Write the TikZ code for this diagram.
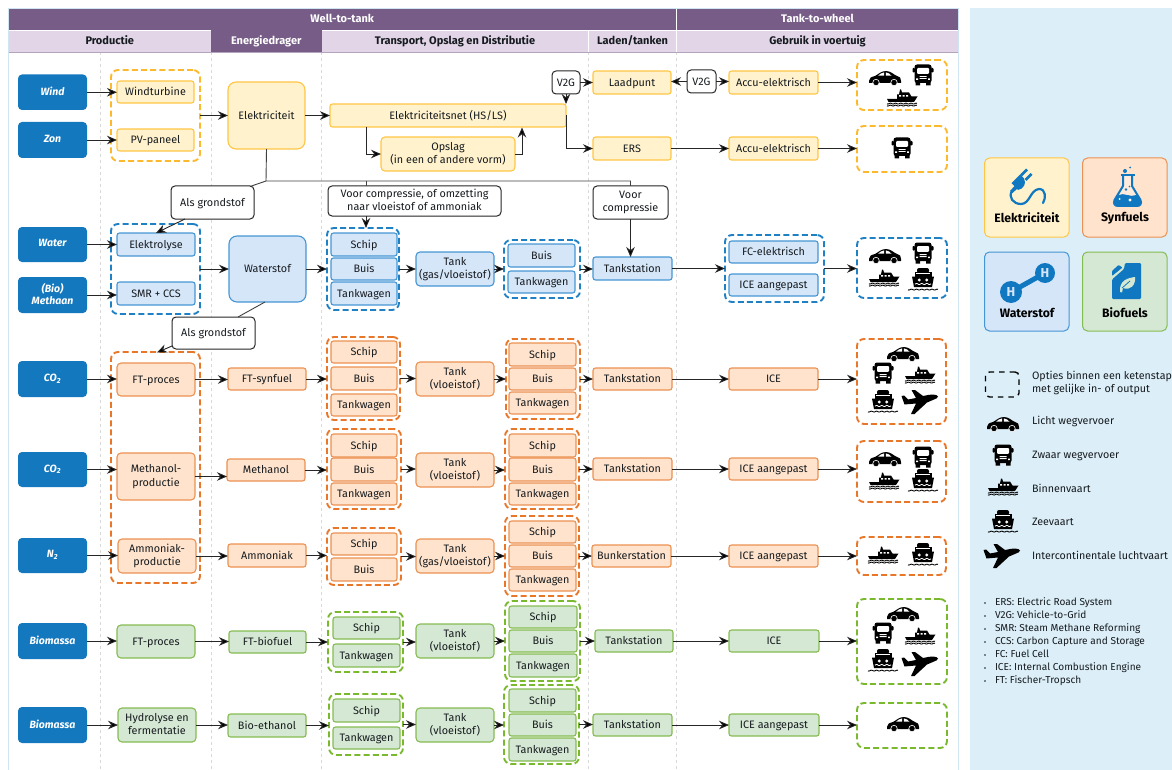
\documentclass[tikz,border=0pt]{standalone}
\usepackage{fontspec}
\setmainfont{Fira Sans}
\usetikzlibrary{arrows.meta,calc}
\definecolor{purp}{HTML}{765C87}
\definecolor{lav}{HTML}{E1D5E7}
\definecolor{panel}{HTML}{DCEEF8}
\definecolor{frameb}{HTML}{CFE5F2}
\definecolor{srcb}{HTML}{1378BE}
\definecolor{fillY}{HTML}{FFF2CC}\definecolor{lineY}{HTML}{FFC645}\definecolor{dashY}{HTML}{FDB92E}
\definecolor{fillB}{HTML}{D6E6F9}\definecolor{lineB}{HTML}{4596D4}\definecolor{dashB}{HTML}{1F80C4}
\definecolor{fillO}{HTML}{FFE3CC}\definecolor{lineO}{HTML}{EC9152}\definecolor{dashO}{HTML}{E8772A}
\definecolor{fillG}{HTML}{D5E8D4}\definecolor{lineG}{HTML}{85BC50}\definecolor{dashG}{HTML}{7AB82E}
\definecolor{ink}{HTML}{161B1F}
\definecolor{iconb}{HTML}{0F78C0}
\newcommand{\bx}[7]{%
  \pgfmathsetmacro\cxv{(#3+#5)/2}\pgfmathsetmacro\cyv{(#4+#6)/2}%
  \pgfmathsetmacro\wv{#5-#3}\pgfmathsetmacro\hv{#6-#4}%
  \node[#1,minimum width=\wv pt,minimum height=\hv pt] (#2) at (\cxv,\cyv) {\leavevmode\vphantom{Ag}#7\vphantom{Ag}};}
\newcommand{\harr}[2]{\draw[arr] (#1.east) -- (#1.east -| #2.west);}
\tikzset{
  base/.style={inner sep=0pt,outer sep=0pt,align=center,text=ink,font=\fontsize{10.8}{13.5}\selectfont,rounded corners=2.5pt,line width=1.1pt,execute at begin node={\leavevmode\rule{0pt}{9.6pt}}},
  boxY/.style={base,fill=fillY,draw=lineY},
  boxB/.style={base,fill=fillB,draw=lineB},
  boxO/.style={base,fill=fillO,draw=lineO},
  boxG/.style={base,fill=fillG,draw=lineG},
  bigbox/.style={rounded corners=8pt},
  midbox/.style={rounded corners=4pt},
  grpbase/.style={inner sep=0pt,outer sep=0pt,rounded corners=7pt,line width=1.9pt,dash pattern=on 6pt off 3.2pt},
  grpY/.style={grpbase,draw=dashY},
  grpB/.style={grpbase,draw=dashB},
  grpO/.style={grpbase,draw=dashO},
  grpG/.style={grpbase,draw=dashG},
  src/.style={inner sep=0pt,outer sep=0pt,align=center,fill=srcb,rounded corners=4pt,text=white,font=\fontsize{10.5}{12.5}\selectfont\bfseries\itshape},
  whitebox/.style={base,fill=white,draw=black!85,rounded corners=4pt,line width=1pt},
  arr/.style={line width=0.9pt,draw=black!85,-{Stealth[length=10pt,width=8.5pt,fill=black]}},
  plainln/.style={line width=0.9pt,draw=black!75},
  hpurp/.style={inner sep=0pt,outer sep=0pt,fill=purp,text=white,font=\fontsize{11}{12}\selectfont\bfseries},
  hlav/.style={inner sep=0pt,outer sep=0pt,fill=lav,text=ink,font=\fontsize{11}{12}\selectfont\bfseries},
  coldiv/.style={draw=black!15,line width=0.8pt,dashed},
  legtxt/.style={inner sep=0pt,outer sep=0pt,anchor=west,text=ink,text height=7.6pt,text depth=2.4pt,font=\fontsize{10.7}{12}\selectfont},
  abbtxt/.style={inner sep=0pt,outer sep=0pt,anchor=west,text=ink,text height=7pt,text depth=2.2pt,font=\fontsize{10.1}{11}\selectfont},
  legbig/.style={inner sep=0pt,outer sep=0pt,text=black,font=\fontsize{12.2}{13}\selectfont\bfseries},
  legcard/.style={inner sep=0pt,outer sep=0pt,rounded corners=5pt,line width=1pt},
  carIcon/.pic={
    \fill[black] (-16,3) .. controls (-16,0) and (-14,-1) .. (-10,-2) .. controls (-7,-3.5) and (-4,-7) .. (1,-7) .. controls (6,-7) and (9,-3) .. (12,-2) .. controls (15,-1.5) and (16,0) .. (16,3) -- (16,5) -- (-16,5) -- cycle;
    \fill[white] (-7,-2.3) .. controls (-5,-4) and (-3,-5.5) .. (-0.8,-5.6) -- (-0.8,-2.3) -- cycle;
    \fill[white] (0.8,-5.6) .. controls (3,-5.6) and (5,-4) .. (6.5,-2.3) -- (0.8,-2.3) -- cycle;
    \fill[black,draw=white,line width=0.6pt] (-9,4.5) circle (3.2) (9,4.5) circle (3.2);
  },
  truckIcon/.pic={
    \fill[black,rounded corners=2.5pt] (-8.5,-10.5) rectangle (8.5,8);
    \fill[black] (-7.5,7) rectangle (-3,10.5) (3,7) rectangle (7.5,10.5);
    \fill[black,rounded corners=0.8pt] (-10.5,-7) rectangle (-8,-2.5) (8,-7) rectangle (10.5,-2.5);
    \fill[white,rounded corners=1pt] (-6,-7) rectangle (6,-1.2);
    \fill[white] (-3.5,1.2) rectangle (3.5,2) (-3.5,3.2) rectangle (3.5,4);
    \fill[white] (-6.8,3.5) rectangle (-5,5) (5,3.5) rectangle (6.8,5);
  },
  boatIcon/.pic={
    \fill[black] (-15,1) -- (-5,1) -- (-5,-3.5) -- (-3,-3.5) -- (-2,-8.5) -- (-1,-8.5) -- (0,-5.5) -- (7,-5.5) -- (9.5,-1.5) -- (15.5,-1.5) -- (12,4) -- (-13.5,4) -- cycle;
    \fill[white] (-2.8,-2.8) rectangle (-0.8,-1.3) (0.6,-2.8) rectangle (2.6,-1.3) (4,-2.8) rectangle (6,-1.3);
    \draw[black,line width=0.9pt] plot[domain=-15:15,samples=40,smooth] (\x,{5.6+0.45*sin(\x*70)});
    \draw[black,line width=0.9pt] plot[domain=-15:15,samples=40,smooth] (\x,{7.6+0.45*sin(\x*70)});
  },
  shipIcon/.pic={
    \fill[black,rounded corners=2pt] (-6,-13) rectangle (6,-8);
    \fill[black] (-8.5,-9) rectangle (8.5,-4);
    \fill[black] (-11,-4.5) -- (11,-4.5) -- (9,6) -- (-9,6) -- cycle;
    \fill[white] (-3.8,-1) circle (1.6) (3.8,-1) circle (1.6);
    \fill[white] (-7,-7.6) rectangle (7,-6.8);
    \draw[white,line width=0.8pt] plot[domain=-8:8,samples=30,smooth] (\x,{3+0.5*sin(\x*70)});
    \draw[black,line width=0.9pt] plot[domain=-15:15,samples=40,smooth] (\x,{8.6+0.45*sin(\x*70)});
  },
  planeIcon/.pic={
    \fill[black,line join=round] (18,-5.5) .. controls (17,-8) and (11,-7.5) .. (8,-7) -- (3,-6) -- (-5,-12) -- (-8.5,-12) -- (-4,-4) -- (-12,-2.5) -- (-16,-6.5) -- (-18.5,-6) -- (-15.5,2.5) -- (-4,1.5) -- (-9,12) -- (-5.5,12) -- (7,0.5) -- (14,-2.5) .. controls (16,-3.2) and (18,-4) .. (18,-5.5) -- cycle;
  }
}
\begin{document}
\begin{tikzpicture}[x=1pt,y=-1pt]
\useasboundingbox (0,0) rectangle (1172,770);
% frame and panel
\bx{draw=frameb,line width=0.8pt,inner sep=0pt,outer sep=0pt}{frame}{8}{8.5}{958.5}{771}{}
\bx{fill=panel,inner sep=0pt,outer sep=0pt}{legpanel}{970}{8}{1172}{770}{}
% column dividers
\foreach \xx in {100,211,321,588,676}{\draw[coldiv] (\xx,52) -- (\xx,770);}
% headers
\bx{hpurp}{hWtT}{8.5}{9.5}{676}{30}{Well-to-tank}
\bx{hpurp}{hTtW}{677}{9.5}{958}{30}{Tank-to-wheel}
\bx{hlav}{hProd}{8.5}{31}{211}{52}{Productie}
\bx{hpurp}{hEner}{211}{30}{321.5}{52}{Energiedrager}
\bx{hlav}{hTrans}{322}{31}{588}{52}{Transport, Opslag en Distributie}
\bx{hlav}{hLaden}{589}{31}{676}{52}{Laden/tanken}
\bx{hlav}{hGebr}{677}{31}{958}{52}{Gebruik in voertuig}
\draw[purp!55,line width=0.8pt] (hProd.south west) -- (hGebr.south east);
% sources
\bx{src}{sWind}{18}{74.5}{87}{110}{Wind}
\bx{src}{sZon}{18}{122}{87}{158}{Zon}
\bx{src}{sWater}{18}{227}{87}{262}{Water}
\bx{src}{sMeth}{18}{277}{87}{313}{(Bio)\\Methaan}
\bx{src}{sCOa}{18}{361}{87}{397}{CO\textsubscript{2}}
\bx{src}{sCOb}{18}{452}{87}{487}{CO\textsubscript{2}}
\bx{src}{sN}{18}{538}{87}{573}{N\textsubscript{2}}
\bx{src}{sBioa}{18}{623}{87}{659}{Biomassa}
\bx{src}{sBiob}{18}{707}{87}{743}{Biomassa}
% yellow
\bx{grpY}{gWZ}{111}{70}{200}{161}{}
\bx{boxY}{wt}{117}{81}{194}{103}{Windturbine}
\bx{boxY}{pv}{117}{129}{194}{151}{PV-paneel}
\bx{boxY,bigbox}{elek}{228}{82}{305}{149}{Elektriciteit}
\bx{boxY}{net}{330}{104}{566}{127}{Elektriciteitsnet (HS/LS)}
\bx{boxY,midbox}{opslag}{381}{137}{515}{171}{Opslag\\(in een of andere vorm)}
\bx{whitebox}{vga}{552}{71}{580}{94}{V2G}
\bx{whitebox}{vgb}{687}{70}{716}{93}{V2G}
\bx{boxY}{laad}{593}{71}{671}{94}{Laadpunt}
\bx{boxY}{ers}{593}{137}{671}{160}{ERS}
\bx{boxY}{accua}{729}{71}{818}{94}{Accu-elektrisch}
\bx{boxY}{accub}{729}{137}{818}{160}{Accu-elektrisch}
\bx{grpY}{iYa}{857}{60}{947}{110}{}
\bx{grpY}{iYb}{857}{126}{947}{172}{}
% white labels
\bx{whitebox}{agA}{171}{186}{254}{219}{Als grondstof}
\bx{whitebox}{voorA}{328}{186}{501}{216}{Voor compressie, of omzetting\\naar vloeistof of ammoniak}
\bx{whitebox}{voorB}{593}{186}{668}{219}{Voor\\compressie}
\bx{whitebox}{agB}{172}{317}{255}{349}{Als grondstof}
% blue
\bx{grpB}{gEl}{111}{224}{200}{314}{}
\bx{boxB}{elyse}{117}{233}{195}{256}{Elektrolyse}
\bx{boxB}{smr}{117}{282}{195}{305}{SMR + CCS}
\bx{boxB,bigbox}{wst}{229}{236}{306}{302}{Waterstof}
\bx{grpB}{gBa}{327}{228}{399}{310}{}
\bx{boxB}{bSchip}{331}{233}{397}{256}{Schip}
\bx{boxB}{bBuis}{331}{258}{397}{280}{Buis}
\bx{boxB}{bTw}{331}{282}{397}{305}{Tankwagen}
\bx{boxB,midbox}{bTank}{416}{252}{494}{286}{Tank\\(gas/vloeistof)}
\bx{grpB}{gBb}{504}{240}{580}{298}{}
\bx{boxB}{bBuis2}{508}{244}{575}{267}{Buis}
\bx{boxB}{bTw2}{508}{271}{575}{293}{Tankwagen}
\bx{boxB}{bTs}{593}{257}{672}{280}{Tankstation}
\bx{grpB}{gFC}{725}{235}{824}{302}{}
\bx{boxB}{fc}{729}{241}{818}{263}{FC-elektrisch}
\bx{boxB}{bIce}{729}{274}{818}{296}{ICE aangepast}
\bx{grpB}{iB}{857}{238}{947}{298}{}
% orange
\bx{grpO}{gOp}{111}{352}{200}{583}{}
\bx{boxO,midbox}{ftO}{117}{363}{195}{396}{FT-proces}
\bx{boxO,midbox}{methP}{117}{453}{195}{500}{Methanol-\\productie}
\bx{boxO,midbox}{ammP}{118}{539}{196}{573}{Ammoniak-\\productie}
\bx{boxO}{ftS}{228}{368}{306}{390}{FT-synfuel}
\bx{boxO}{meth}{227}{459}{305}{481}{Methanol}
\bx{boxO}{amm}{228}{544}{306}{567}{Ammoniak}
% orange row 1
\bx{grpO}{gOa}{327}{337}{400}{420}{}
\bx{boxO}{oaS}{331}{341}{397}{363}{Schip}
\bx{boxO}{oaB}{331}{367}{397}{390}{Buis}
\bx{boxO}{oaT}{331}{394}{397}{416}{Tankwagen}
\bx{boxO,midbox}{oaTank}{416}{362}{494}{396}{Tank\\(vloeistof)}
\bx{grpO}{gOa2}{506}{339}{580}{419}{}
\bx{boxO}{oa2S}{509}{343}{576}{366}{Schip}
\bx{boxO}{oa2B}{509}{368}{576}{390}{Buis}
\bx{boxO}{oa2T}{509}{392}{576}{414}{Tankwagen}
\bx{boxO}{oaTs}{593}{368}{672}{390}{Tankstation}
\bx{boxO}{oaIce}{729}{368}{818}{390}{ICE}
\bx{grpO}{iOa}{857}{339}{946}{424}{}
% orange row 2
\bx{grpO}{gOb}{327}{429}{401}{509}{}
\bx{boxO}{obS}{331}{434}{397}{457}{Schip}
\bx{boxO}{obB}{331}{458}{397}{481}{Buis}
\bx{boxO}{obT}{331}{483}{397}{505}{Tankwagen}
\bx{boxO,midbox}{obTank}{416}{453}{494}{487}{Tank\\(vloeistof)}
\bx{grpO}{gOb2}{505}{429}{579}{509}{}
\bx{boxO}{ob2S}{509}{434}{576}{457}{Schip}
\bx{boxO}{ob2B}{509}{458}{576}{481}{Buis}
\bx{boxO}{ob2T}{509}{483}{576}{505}{Tankwagen}
\bx{boxO}{obTs}{593}{458}{672}{480}{Tankstation}
\bx{boxO}{obIce}{729}{458}{818}{480}{ICE aangepast}
\bx{grpO}{iOb}{857}{441}{946}{502}{}
% orange row 3
\bx{grpO}{gOc}{327}{528}{401}{585}{}
\bx{boxO}{ocS}{331}{533}{397}{555}{Schip}
\bx{boxO}{ocB}{331}{558}{397}{581}{Buis}
\bx{boxO,midbox}{ocTank}{416}{539}{494}{573}{Tank\\(gas/vloeistof)}
\bx{grpO}{gOc2}{505}{516}{579}{596}{}
\bx{boxO}{oc2S}{509}{521}{576}{543}{Schip}
\bx{boxO}{oc2B}{509}{545}{576}{567}{Buis}
\bx{boxO}{oc2T}{509}{569}{576}{591}{Tankwagen}
\bx{boxO}{ocTs}{592}{545}{671}{567}{Bunkerstation}
\bx{boxO}{ocIce}{729}{545}{818}{567}{ICE aangepast}
\bx{grpO}{iOc}{857}{537}{946}{575}{}
% green row 1
\bx{boxG,midbox}{ftG}{117}{625}{195}{658}{FT-proces}
\bx{boxG}{ftB}{229}{631}{306}{653}{FT-biofuel}
\bx{grpG}{gGa}{328}{612}{403}{672}{}
\bx{boxG}{gaS}{333}{617}{400}{639}{Schip}
\bx{boxG}{gaT}{333}{644}{400}{667}{Tankwagen}
\bx{boxG,midbox}{gaTank}{416}{624}{494}{658}{Tank\\(vloeistof)}
\bx{grpG}{gGa2}{505}{601}{580}{681}{}
\bx{boxG}{ga2S}{509}{606}{577}{628}{Schip}
\bx{boxG}{ga2B}{509}{630}{577}{652}{Buis}
\bx{boxG}{ga2T}{509}{654}{577}{677}{Tankwagen}
\bx{boxG}{gaTs}{595}{630}{673}{652}{Tankstation}
\bx{boxG}{gaIce}{729}{630}{819}{652}{ICE}
\bx{grpG}{iGa}{857}{599}{947}{684}{}
% green row 2
\bx{boxG,midbox}{hydro}{118}{708}{196}{742}{Hydrolyse en\\fermentatie}
\bx{boxG}{bioe}{228}{714}{306}{737}{Bio-ethanol}
\bx{grpG}{gGb}{329}{694}{403}{755}{}
\bx{boxG}{gbS}{333}{699}{400}{722}{Schip}
\bx{boxG}{gbT}{333}{727}{400}{749}{Tankwagen}
\bx{boxG,midbox}{gbTank}{416}{708}{494}{742}{Tank\\(vloeistof)}
\bx{grpG}{gGb2}{504}{685}{579}{764}{}
\bx{boxG}{gb2S}{509}{689}{576}{712}{Schip}
\bx{boxG}{gb2B}{509}{714}{576}{736}{Buis}
\bx{boxG}{gb2T}{509}{738}{576}{761}{Tankwagen}
\bx{boxG}{gbTs}{593}{714}{672}{736}{Tankstation}
\bx{boxG}{gbIce}{729}{714}{819}{736}{ICE aangepast}
\bx{grpG}{iGb}{857}{703}{947}{748}{}
% connectors: sources
\harr{sWind}{wt}\harr{sZon}{pv}\harr{sWater}{elyse}\harr{sMeth}{smr}
\harr{sCOa}{ftO}\harr{sCOb}{methP}\harr{sN}{ammP}\harr{sBioa}{ftG}\harr{sBiob}{hydro}
% electricity
\harr{gWZ}{elek}\harr{elek}{net}
\coordinate (netOut) at (366,127);
\coordinate (netIn) at (522,127.5);
\draw[arr] (netOut) |- (opslag.west);
\draw[arr] (opslag.east) -| (netIn);
\draw[arr] (net.east) |- (ers.west);
\draw[arr] (vga.south) -- (vga.south |- net.north);
\harr{vga}{laad}
\draw[arr] (vgb.west) -- (vgb.west -| laad.east);
\harr{vgb}{accua}
\harr{ers}{accub}
\harr{accua}{iYa}\harr{accub}{iYb}
% raw-material bus
\coordinate (bus) at (266,181);
\coordinate (busA) at (366,181);
\coordinate (agAin) at (250,186.5);
\coordinate (agAout) at (185,219);
\coordinate (agBin) at (238,317);
\coordinate (agBout) at (172,346);
\coordinate (wstOut) at (265,302);
\coordinate (opIn) at (157,352.5);
\draw[plainln] (elek.south) -- (bus) -- (bus -| voorB.north) -- (voorB.north);
\draw[plainln] (bus) -- (agAin);
\draw[plainln] (busA) -- (busA |- voorA.north);
\draw[arr] (voorA.south -| busA) -- (busA |- gBa.north);
\draw[arr] (voorB.south) -- (voorB.south |- bTs.north);
\draw[arr] (agAout) -- (elyse.north);
\draw[plainln] (wstOut) -- (agBin);
\draw[arr] (agBout) -- (opIn);
% hydrogen
\harr{gEl}{wst}\harr{wst}{gBa}\harr{gBa}{bTank}\harr{bTank}{gBb}\harr{gBb}{bTs}\harr{bTs}{gFC}\harr{gFC}{iB}
% orange rows
\harr{ftO}{ftS}\harr{ftS}{gOa}\harr{gOa}{oaTank}\harr{oaTank}{gOa2}\harr{gOa2}{oaTs}\harr{oaTs}{oaIce}\harr{oaIce}{iOa}
\harr{methP}{meth}\harr{meth}{gOb}\harr{gOb}{obTank}\harr{obTank}{gOb2}\harr{gOb2}{obTs}\harr{obTs}{obIce}\harr{obIce}{iOb}
\harr{ammP}{amm}\harr{amm}{gOc}\harr{gOc}{ocTank}\harr{ocTank}{gOc2}\harr{gOc2}{ocTs}\harr{ocTs}{ocIce}\harr{ocIce}{iOc}
% green rows
\harr{ftG}{ftB}\harr{ftB}{gGa}\harr{gGa}{gaTank}\harr{gaTank}{gGa2}\harr{gGa2}{gaTs}\harr{gaTs}{gaIce}\harr{gaIce}{iGa}
\harr{hydro}{bioe}\harr{bioe}{gGb}\harr{gGb}{gbTank}\harr{gbTank}{gGb2}\harr{gGb2}{gbTs}\harr{gbTs}{gbIce}\harr{gbIce}{iGb}
% vehicle icons
\pic at (885,78) {carIcon}; \pic at (923,75) {truckIcon}; \pic at (902,98) {boatIcon};
\pic at (902,148) {truckIcon};
\pic at (885,256) {carIcon}; \pic at (923,253) {truckIcon}; \pic at (884,278) {boatIcon}; \pic at (923,281) {shipIcon};
\pic at (903,354) {carIcon}; \pic at (883,373) {truckIcon}; \pic at (920,375) {boatIcon}; \pic at (883,403) {shipIcon}; \pic at (920,402) {planeIcon};
\pic at (885,459) {carIcon}; \pic at (923,457) {truckIcon}; \pic at (884,481) {boatIcon}; \pic at (923,482) {shipIcon};
\pic at (883,555) {boatIcon}; \pic at (923,556) {shipIcon};
\pic at (903,614) {carIcon}; \pic at (883,633) {truckIcon}; \pic at (920,636) {boatIcon}; \pic at (883,662) {shipIcon}; \pic at (920,664) {planeIcon};
\pic at (903,724) {carIcon};
% legend cards
\bx{legcard,fill=fillY,draw=lineY}{cElek}{984.5}{158}{1069}{237}{}
\bx{legcard,fill=fillO,draw=lineO}{cSyn}{1082.5}{158}{1167}{237}{}
\bx{legcard,fill=fillB,draw=lineB}{cWat}{984.5}{252}{1069}{331}{}
\bx{legcard,fill=fillG,draw=lineG}{cBio}{1082.5}{252}{1167}{331}{}
\node[legbig] (tElek) at (1027,218) {Elektriciteit};
\node[legbig] (tSyn) at (1125,218) {Synfuels};
\node[legbig] (tWat) at (1027,313) {Waterstof};
\node[legbig] (tBio) at (1125,313) {Biofuels};
% plug
\fill[iconb] (1011.5,183) -- (1020,174.5) -- (1024,178.5) .. controls (1027,184) and (1023,189) .. (1018,190) -- cycle;
\fill[iconb] (1014.5,186) -- (1010,191) -- (1012.5,193) -- (1017.5,188.5) -- cycle;
\draw[iconb,line width=2.8pt] (1021,175.5) -- (1027,169.5) (1025.5,180) -- (1031.5,174);
\draw[iconb,line width=2.2pt,line cap=round] (1012,191) .. controls (1008,197) and (1013,204) .. (1021,204) .. controls (1030,204) and (1030,190) .. (1039,189) .. controls (1046,189) and (1046,198) .. (1043,203);
% flask
\draw[iconb,line width=2pt,fill=white!30!fillO,line join=round] (1123,176) -- (1123,186) -- (1114.5,200) .. controls (1113,204) and (1115,206) .. (1118,206) -- (1137,206) .. controls (1140,206) and (1142,204) .. (1140.5,200) -- (1132,186) -- (1132,176);
\draw[iconb,line width=2pt] (1120.5,175.5) -- (1134.5,175.5);
\fill[iconb] (1118.5,195) .. controls (1124,192) and (1130,198) .. (1136.5,195) -- (1141,201) .. controls (1142,204) and (1140,206) .. (1137,206) -- (1118,206) .. controls (1115,206) and (1113,204) .. (1114,201) -- cycle;
\fill[white] (1130,200) circle (1.7) (1119.5,199) circle (1);
\fill[iconb] (1125,171) circle (2) (1130,167.5) circle (1) (1126,189.5) circle (1.3) (1129.5,186.5) circle (0.8);
% molecule
\draw[iconb,line width=5pt] (1011,292) -- (1045,273);
\fill[iconb] (1011,292) circle (11) (1045,273) circle (10);
\node[text=fillB,inner sep=0pt,font=\fontsize{13}{13}\selectfont\bfseries] (hA) at (1011,292) {H};
\node[text=fillB,inner sep=0pt,font=\fontsize{13}{13}\selectfont\bfseries] (hB) at (1045,273) {H};
% jerrycan
\fill[iconb,rounded corners=1.2pt] (1125,263) -- (1141,263) -- (1141,299) -- (1112,299) -- (1112,279.5) -- (1124,269) -- cycle;
\fill[iconb,rounded corners=0.8pt] (1112,276) -- (1112,271) -- (1118.5,265) -- (1122.5,267.5) -- cycle;
\fill[fillG] (1120,292) .. controls (1119,280) and (1128,278) .. (1135,277) .. controls (1136,285) and (1130,291) .. (1123,288) -- (1122,292.5) -- cycle;
\draw[iconb,line width=0.8pt] (1122,288) -- (1130,281);
% legend rows
\bx{draw=black,line width=1.4pt,rounded corners=4pt,dash pattern=on 5.5pt off 5pt,inner sep=0pt,outer sep=0pt}{legDash}{985.5}{372}{1019}{397}{}
\node[legtxt] (lDashA) at (1032,376.5) {Opties binnen een ketenstap};
\node[legtxt] (lDashB) at (1032,390) {met gelijke in- of output};
\pic at (1003,424) {carIcon};
\pic at (1003,455) {truckIcon};
\pic at (1003,487) {boatIcon};
\pic at (1003,523) {shipIcon};
\pic at (1002,556) {planeIcon};
\node[legtxt] (l1) at (1032,422) {Licht wegvervoer};
\node[legtxt] (l2) at (1032,456) {Zwaar wegvervoer};
\node[legtxt] (l3) at (1032,490) {Binnenvaart};
\node[legtxt] (l4) at (1032,523) {Zeevaart};
\node[legtxt] (l5) at (1032,557) {Intercontinentale luchtvaart};
% abbreviations
\foreach \yy/\nm/\tx in {603/a1/{ERS: Electric Road System},616/a2/{V2G: Vehicle-to-Grid},629/a3/{SMR: Steam Methane Reforming},642/a4/{CCS: Carbon Capture and Storage},655/a5/{FC: Fuel Cell},668/a6/{ICE: Internal Combustion Engine},681/a7/{FT: Fischer-Tropsch}}{
  \fill[ink] (985,\yy) circle (0.9);
  \node[abbtxt] (\nm) at (995,\yy) {\tx};
}
\end{tikzpicture}
\end{document}
